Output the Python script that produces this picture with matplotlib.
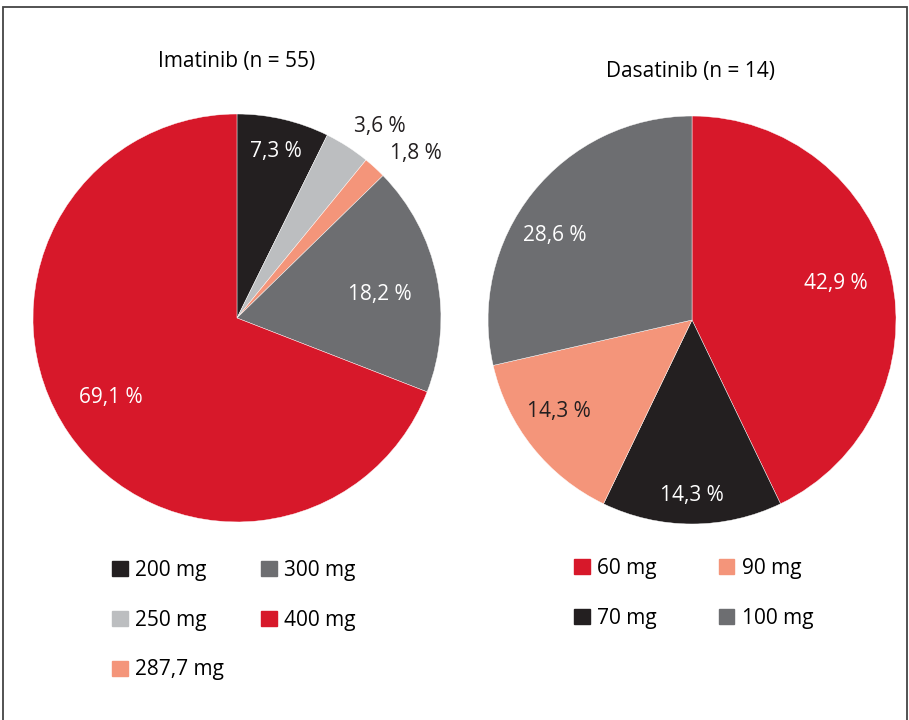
import numpy as np
import matplotlib
matplotlib.use("Agg")
import matplotlib.pyplot as plt
import matplotlib.patches as mpatches

plt.rcParams["font.family"] = ["Open Sans", "DejaVu Sans"]

# data
ima_labels = ["200 mg", "250 mg", "287,7 mg", "300 mg", "400 mg"]
ima_values = [7.3, 3.6, 1.8, 18.2, 69.1]
das_labels = ["60 mg", "70 mg", "90 mg", "100 mg"]
das_values = [42.9, 14.3, 14.3, 28.6]

RED = "#d7182a"
BLACK = "#231f20"
LGRAY = "#bcbec0"
SALMON = "#f4957a"
GRAY = "#6d6e71"

ima_colors = [BLACK, LGRAY, SALMON, GRAY, RED]
das_colors = [RED, BLACK, SALMON, GRAY]

# label placement (radius fraction, angle shift deg, text colour)
ima_lab = [(0.84, 0, "white"), (1.17, -4, BLACK), (1.19, -5, BLACK),
           (0.71, -2, "white"), (0.73, -2, "white")]
das_lab = [(0.73, 1.5, "white"), (0.86, 0, "white"),
           (0.79, -4, BLACK), (0.79, 7, "white")]

FS = 15

fig = plt.figure(figsize=(9.09, 7.2), dpi=100)


def draw_pie(rect, values, colors, labs):
    ax = fig.add_axes(rect)
    wedges, _ = ax.pie(values, colors=colors, startangle=90, counterclock=False,
                       wedgeprops=dict(edgecolor="white", linewidth=0.3))
    for w, v, (r, dth, c) in zip(wedges, values, labs):
        th = np.deg2rad((w.theta1 + w.theta2) / 2 + dth)
        ax.text(r * np.cos(th), r * np.sin(th), f"{v:.1f} %".replace(".", ","),
                ha="center", va="center", fontsize=FS, color=c)
    ax.set_xlim(-1, 1)
    ax.set_ylim(-1, 1)
    ax.set_aspect("equal")
    ax.axis("off")
    return wedges


w1 = draw_pie([0.0363, 0.275, 0.4488, 0.5667], ima_values, ima_colors, ima_lab)
w2 = draw_pie([0.5369, 0.2722, 0.4488, 0.5667], das_values, das_colors, das_lab)

fig.text(237 / 909, 1 - 61 / 720, "Imatinib (n = 55)", ha="center", va="center", fontsize=FS)
fig.text(690 / 909, 1 - 71 / 720, "Dasatinib (n = 14)", ha="center", va="center", fontsize=FS)

leg_kw = dict(ncol=2, frameon=False, fontsize=FS, handlelength=0.75, handleheight=0.75,
              handletextpad=0.35, labelspacing=1.38, borderpad=0, borderaxespad=0)

h1 = [mpatches.Patch(color=c, label=l) for c, l in zip(ima_colors, ima_labels)]
fig.legend(handles=h1, loc="upper left", bbox_to_anchor=(112 / 909, 1 - 560 / 720),
           columnspacing=1.8, **leg_kw)
h2 = [mpatches.Patch(color=c, label=l) for c, l in zip(das_colors, das_labels)]
fig.legend(handles=h2, loc="upper left", bbox_to_anchor=(574 / 909, 1 - 558 / 720),
           columnspacing=2.98, **leg_kw)

# outer frame
fig.patches.append(mpatches.Rectangle((3 / 909, -0.05), 904 / 909, 1.05 - 7 / 720,
                                      transform=fig.transFigure, fill=False,
                                      edgecolor="#444444", linewidth=1.3))

fig.savefig("out.png", dpi=100)
